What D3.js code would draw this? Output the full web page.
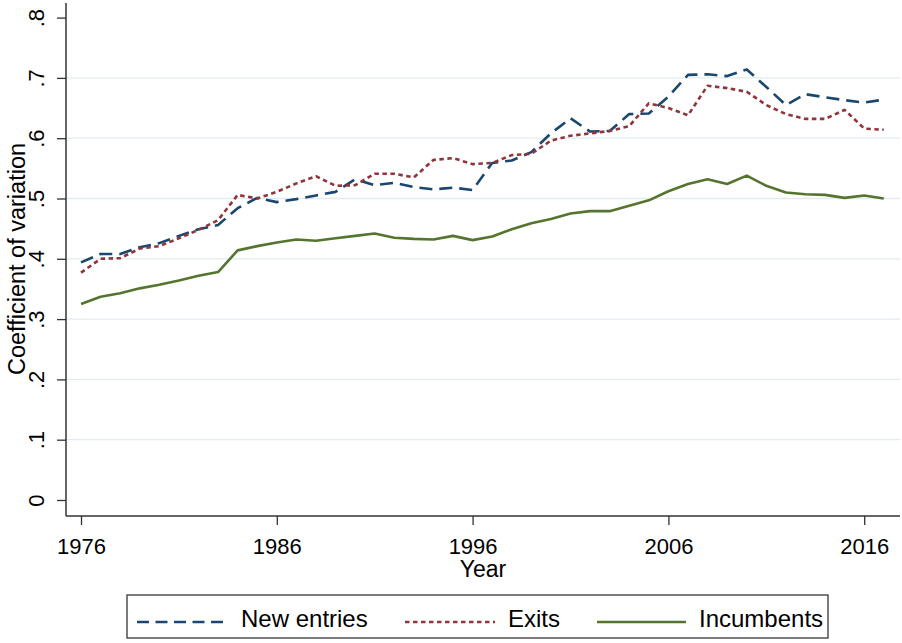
<!DOCTYPE html>
<html><head><meta charset="utf-8">
<script src="https://cdn.jsdelivr.net/npm/d3@7"></script>
<style>
html,body{margin:0;padding:0;background:#fff;}
svg{display:block;font-family:"Liberation Sans",Arial,sans-serif;}
</style></head>
<body>
<svg id="chart" width="902" height="643"></svg>
<script>
const years = d3.range(1976, 2018);
const newEntries = [0.394,0.408,0.408,0.419,0.426,0.438,0.449,0.456,0.484,0.501,0.494,0.499,0.505,0.511,0.532,0.522,0.526,0.519,0.515,0.518,0.514,0.559,0.563,0.577,0.608,0.633,0.611,0.612,0.640,0.641,0.669,0.705,0.706,0.703,0.714,0.685,0.655,0.673,0.668,0.663,0.659,0.664];
const exits = [0.377,0.400,0.401,0.417,0.421,0.434,0.448,0.464,0.506,0.500,0.511,0.525,0.537,0.521,0.522,0.541,0.541,0.535,0.564,0.567,0.557,0.559,0.572,0.574,0.596,0.604,0.608,0.612,0.620,0.658,0.650,0.638,0.687,0.683,0.677,0.655,0.640,0.632,0.632,0.647,0.616,0.614];
const incumbents = [0.325,0.337,0.343,0.351,0.357,0.364,0.372,0.378,0.414,0.421,0.427,0.432,0.430,0.434,0.438,0.442,0.435,0.433,0.432,0.438,0.431,0.437,0.449,0.459,0.466,0.475,0.479,0.479,0.488,0.497,0.512,0.524,0.532,0.524,0.538,0.521,0.510,0.507,0.506,0.501,0.505,0.500];
const xTicks = [1976, 1986, 1996, 2006, 2016];
const yTicks = [0, 0.1, 0.2, 0.3, 0.4, 0.5, 0.6, 0.7, 0.8];
const yTickLabels = ["0", ".1", ".2", ".3", ".4", ".5", ".6", ".7", ".8"];
const seriesNames = ["New entries", "Exits", "Incumbents"];

const series = [
  {name: seriesNames[0], values: newEntries, color: "#1a476f", dash: "13,7", ldash: "12,6.5"},
  {name: seriesNames[1], values: exits, color: "#90353b", dash: "4.5,3.5", ldash: "4.5,3.5"},
  {name: seriesNames[2], values: incumbents, color: "#55752f", dash: null, ldash: null}
];

const svg = d3.select("#chart");
const axisX0 = 66, axisX1 = 900, axisYTop = 3, axisYBot = 516;
const x = d3.scaleLinear().domain([1976, 2016]).range([81, 864.2]);
const y = d3.scaleLinear().domain([0, 0.8]).range([500, 17.6]);

// gridlines
svg.append("g").selectAll("line")
  .data(yTicks.filter(d => d > 0 && d < 0.8))
  .join("line")
  .attr("x1", axisX0).attr("x2", axisX1)
  .attr("y1", d => y(d)).attr("y2", d => y(d))
  .attr("stroke", "#e2ebf0").attr("stroke-width", 1.3);

// y axis
const gy = svg.append("g").attr("transform", `translate(${axisX0},0)`)
  .call(d3.axisLeft(y).tickValues(yTicks).tickSize(9).tickFormat((d,i) => yTickLabels[i]));
gy.select(".domain").remove();
gy.selectAll(".tick line").attr("stroke", "#333").attr("stroke-width", 1.3);
gy.selectAll(".tick text")
  .attr("font-size", 22).attr("fill", "#000")
  .attr("text-anchor", "middle")
  .attr("transform", "translate(-22,0) rotate(-90)")
  .attr("x", 0).attr("y", 0).attr("dy", 0);
svg.append("line").attr("x1", axisX0).attr("x2", axisX0).attr("y1", axisYTop).attr("y2", axisYBot)
  .attr("stroke", "#333").attr("stroke-width", 1.5);

// x axis
const gx = svg.append("g").attr("transform", `translate(0,${axisYBot})`)
  .call(d3.axisBottom(x).tickValues(xTicks).tickSize(9).tickFormat(d3.format("d")));
gx.select(".domain").remove();
gx.selectAll(".tick line").attr("stroke", "#333").attr("stroke-width", 1.3);
gx.selectAll(".tick text").attr("font-size", 22).attr("fill", "#000").attr("y", 38).attr("dy", 0);
svg.append("line").attr("x1", axisX0).attr("x2", axisX1).attr("y1", axisYBot).attr("y2", axisYBot)
  .attr("stroke", "#333").attr("stroke-width", 1.5);

// titles
svg.append("text").attr("x", 483).attr("y", 577).attr("text-anchor", "middle")
  .attr("font-size", 23).attr("fill", "#000").text("Year");
svg.append("text").attr("transform", "translate(25,259) rotate(-90)").attr("text-anchor", "middle")
  .attr("font-size", 23.5).attr("fill", "#000").text("Coefficient of variation");

// lines
const line = d3.line().x((d, i) => x(years[i])).y(d => y(d));
series.forEach(s => {
  svg.append("path").datum(s.values)
    .attr("d", line)
    .attr("fill", "none")
    .attr("stroke", s.color)
    .attr("stroke-width", 2.6)
    .attr("stroke-linejoin", "round")
    .attr("stroke-dasharray", s.dash);
});

// legend
const lg = svg.append("g");
lg.append("rect").attr("x", 127).attr("y", 595).attr("width", 701).attr("height", 43)
  .attr("fill", "#fff").attr("stroke", "#444").attr("stroke-width", 1.4);
const legPos = [
  {x1: 137, x2: 228, tx: 241},
  {x1: 405, x2: 495, tx: 508},
  {x1: 597, x2: 686, tx: 699}
];
series.forEach((s, i) => {
  const p = legPos[i];
  lg.append("line").attr("x1", p.x1).attr("x2", p.x2).attr("y1", 622).attr("y2", 622)
    .attr("stroke", s.color).attr("stroke-width", 2.6).attr("stroke-dasharray", s.ldash);
  lg.append("text").attr("x", p.tx).attr("y", 627).attr("font-size", 24).attr("fill", "#000").text(s.name);
});
</script>
</body></html>
